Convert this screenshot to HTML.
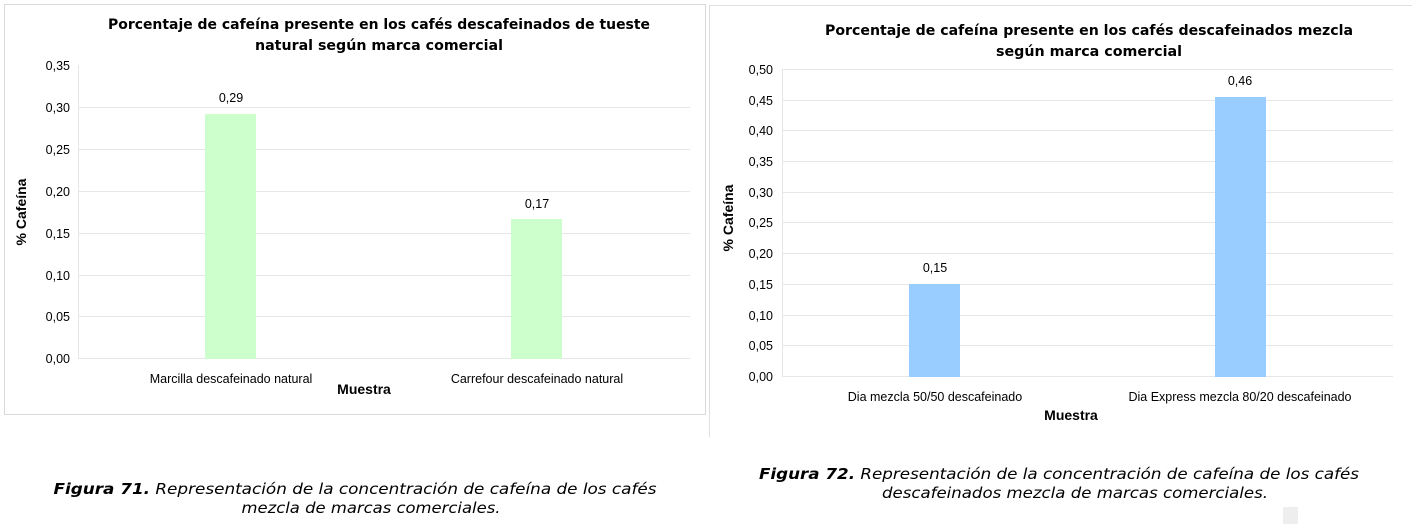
<!DOCTYPE html>
<html><head><meta charset="utf-8"><style>html,body{margin:0;padding:0;background:#fff;}svg{display:block}</style></head>
<body>
<svg width="1412" height="525" xmlns="http://www.w3.org/2000/svg" font-family="Liberation Sans, Arial, sans-serif">
<rect x="0" y="0" width="1412" height="525" fill="#fff"/>
<rect x="4.5" y="4.5" width="701" height="410" fill="#fff" stroke="#d9d9d9" stroke-width="1"/>
<path d="M709.5 437 V5.5 H1412" fill="none" stroke="#e0e0e0" stroke-width="1"/>

<!-- LEFT CHART -->
<g stroke="#e6e6e6" stroke-width="1">
<line x1="78" y1="107.5" x2="690" y2="107.5"/>
<line x1="78" y1="149.5" x2="690" y2="149.5"/>
<line x1="78" y1="191.5" x2="690" y2="191.5"/>
<line x1="78" y1="233.5" x2="690" y2="233.5"/>
<line x1="78" y1="275.5" x2="690" y2="275.5"/>
<line x1="78" y1="316.5" x2="690" y2="316.5"/>
<line x1="78" y1="358.5" x2="690" y2="358.5"/>
<line x1="78.5" y1="65" x2="78.5" y2="358"/>
</g>
<rect x="205" y="114" width="51" height="245" fill="#ccffcc"/>
<rect x="511" y="219" width="51" height="140" fill="#ccffcc"/>
<g font-size="12.5" fill="#000" text-anchor="end">
<text x="70" y="70">0,35</text><text x="70" y="112">0,30</text><text x="70" y="154">0,25</text>
<text x="70" y="196">0,20</text><text x="70" y="238">0,15</text><text x="70" y="280">0,10</text>
<text x="70" y="321">0,05</text><text x="70" y="363">0,00</text>
</g>
<g font-size="12.5" text-anchor="middle">
<text x="231" y="102">0,29</text><text x="537" y="208">0,17</text>
<text x="231" y="383">Marcilla descafeinado natural</text>
<text x="537" y="383">Carrefour descafeinado natural</text>
</g>
<text x="364" y="394" font-size="14" font-weight="bold" text-anchor="middle">Muestra</text>
<text transform="translate(26,212) rotate(-90)" font-size="14" font-weight="bold" text-anchor="middle">% Cafeína</text>
<g font-size="14" font-weight="bold" text-anchor="middle" font-family="DejaVu Sans, Verdana, sans-serif">
<text x="379" y="29" textLength="542" lengthAdjust="spacingAndGlyphs">Porcentaje de cafeína presente en los cafés descafeinados de tueste</text>
<text x="379" y="50" textLength="248" lengthAdjust="spacingAndGlyphs">natural según marca comercial</text>
</g>

<!-- RIGHT CHART -->
<g stroke="#e6e6e6" stroke-width="1">
<line x1="782" y1="69.5" x2="1393" y2="69.5"/>
<line x1="782" y1="100.5" x2="1393" y2="100.5"/>
<line x1="782" y1="130.5" x2="1393" y2="130.5"/>
<line x1="782" y1="161.5" x2="1393" y2="161.5"/>
<line x1="782" y1="192.5" x2="1393" y2="192.5"/>
<line x1="782" y1="222.5" x2="1393" y2="222.5"/>
<line x1="782" y1="253.5" x2="1393" y2="253.5"/>
<line x1="782" y1="284.5" x2="1393" y2="284.5"/>
<line x1="782" y1="315.5" x2="1393" y2="315.5"/>
<line x1="782" y1="345.5" x2="1393" y2="345.5"/>
<line x1="782" y1="376.5" x2="1393" y2="376.5"/>
<line x1="782.5" y1="69" x2="782.5" y2="376"/>
</g>
<rect x="909" y="284" width="51" height="93" fill="#99ccff"/>
<rect x="1215" y="97" width="51" height="280" fill="#99ccff"/>
<g font-size="12.5" text-anchor="end">
<text x="773" y="74">0,50</text><text x="773" y="105">0,45</text><text x="773" y="135">0,40</text>
<text x="773" y="166">0,35</text><text x="773" y="197">0,30</text><text x="773" y="227">0,25</text>
<text x="773" y="258">0,20</text><text x="773" y="289">0,15</text><text x="773" y="320">0,10</text>
<text x="773" y="350">0,05</text><text x="773" y="381">0,00</text>
</g>
<g font-size="12.5" text-anchor="middle">
<text x="935" y="272">0,15</text><text x="1240" y="85">0,46</text>
<text x="935" y="401">Dia mezcla 50/50 descafeinado</text>
<text x="1240" y="401">Dia Express mezcla  80/20 descafeinado</text>
</g>
<text x="1071" y="420" font-size="14" font-weight="bold" text-anchor="middle">Muestra</text>
<text transform="translate(733,218) rotate(-90)" font-size="14" font-weight="bold" text-anchor="middle">% Cafeína</text>
<g font-size="14" font-weight="bold" text-anchor="middle" font-family="DejaVu Sans, Verdana, sans-serif">
<text x="1089" y="35" textLength="528" lengthAdjust="spacingAndGlyphs">Porcentaje de cafeína presente en los cafés descafeinados mezcla</text>
<text x="1089" y="56" textLength="186" lengthAdjust="spacingAndGlyphs">según marca comercial</text>
</g>

<g font-size="15" font-style="italic" font-family="DejaVu Sans, Verdana, sans-serif" text-anchor="middle">
<text x="355" y="494" textLength="603" lengthAdjust="spacingAndGlyphs"><tspan font-weight="bold">Figura 71.</tspan>  Representación de la concentración de cafeína de los cafés</text>
<text x="371" y="513" textLength="259" lengthAdjust="spacingAndGlyphs">mezcla de marcas comerciales.</text>
<text x="1059" y="479" textLength="600" lengthAdjust="spacingAndGlyphs"><tspan font-weight="bold">Figura 72.</tspan>  Representación de la concentración de cafeína de los cafés</text>
<text x="1075" y="498" textLength="386" lengthAdjust="spacingAndGlyphs">descafeinados mezcla de marcas comerciales.</text>
</g>
<rect x="1283" y="507" width="15" height="17" fill="#eeeeee"/>
</svg>
</body></html>
